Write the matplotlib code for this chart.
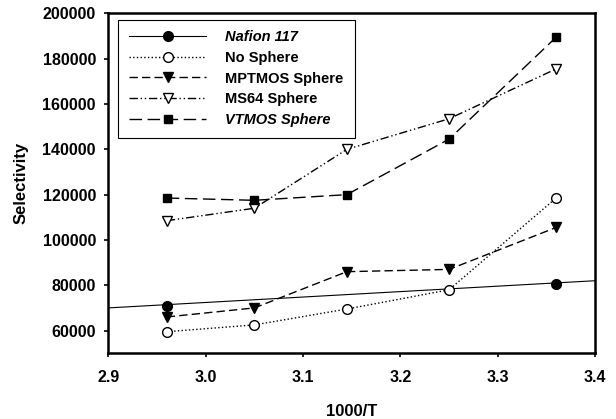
import numpy as np
import matplotlib.pyplot as plt

plt.rcParams['font.family'] = ['Liberation Sans', 'DejaVu Sans']

inv_t = [2.96, 3.05, 3.145, 3.25, 3.36]

nafion_x = [2.96, 3.36]
nafion_y = [71000, 80500]
nafion_fit_x = [2.9, 3.4]
nafion_fit_y = [70000, 82000]

no_sphere = [59500, 62500, 69500, 78000, 118500]
mptmos = [66000, 70000, 86000, 87000, 105500]
ms64 = [108500, 114000, 140000, 153500, 175500]
vtmos = [118500, 117500, 120000, 144500, 189500]

fig = plt.figure(figsize=(6.16, 4.19), dpi=100)
ax = fig.add_axes([0.176, 0.157, 0.790, 0.811])

ax.plot(nafion_fit_x, nafion_fit_y, '-', color='black', lw=0.8)
ax.plot(nafion_x, nafion_y, 'o', color='black', ms=7)
# proxy for legend entry
ax.plot([], [], '-o', color='black', lw=0.8, ms=7, label='Nafion 117')

ax.plot(inv_t, no_sphere, ':o', color='black', lw=1.0, ms=7,
        mfc='white', label='No Sphere')
ax.plot(inv_t, mptmos, '--v', color='black', lw=1.0, ms=7,
        dashes=(6, 3), label='MPTMOS Sphere')
ax.plot(inv_t, ms64, 'v', color='black', lw=1.0, ms=7, mfc='white',
        linestyle=(0, (6, 2, 1, 2, 1, 2)), label='MS64 Sphere')
ax.plot(inv_t, vtmos, 's', color='black', lw=1.0, ms=6,
        linestyle=(0, (9, 4)), label='VTMOS Sphere')

ax.set_xlim(2.9, 3.4)
ax.set_ylim(50000, 200000)
ax.set_xticks([2.9, 3.0, 3.1, 3.2, 3.3, 3.4])
ax.set_xticklabels(['2.9', '3.0', '3.1', '3.2', '3.3', '3.4'])
ax.set_yticks(np.arange(60000, 200001, 20000))
ax.tick_params(direction='out', length=3, width=1.2, labelsize=11.5)
ax.tick_params(axis='x', pad=9)
ax.tick_params(axis='y', pad=6)
for lab in ax.get_xticklabels() + ax.get_yticklabels():
    lab.set_fontweight('bold')
for sp in ax.spines.values():
    sp.set_linewidth(1.8)

ax.set_xlabel('1000/T', fontsize=12, fontweight='bold', labelpad=14)
ax.set_ylabel('Selectivity', fontsize=12, fontweight='bold', labelpad=10)

handles, labels = ax.get_legend_handles_labels()
leg = ax.legend(handles, labels, loc='upper left', bbox_to_anchor=(0.02, 0.982),
                fancybox=False, edgecolor='black', framealpha=1,
                handlelength=5.3, handletextpad=1.3, borderpad=0.75,
                labelspacing=0.45, borderaxespad=0.0,
                prop={'weight': 'bold', 'size': 10.5})
leg.get_frame().set_linewidth(0.8)
for txt in leg.get_texts():
    if txt.get_text() in ('Nafion 117', 'VTMOS Sphere'):
        txt.set_fontstyle('italic')

fig.savefig('out.png', dpi=100)
